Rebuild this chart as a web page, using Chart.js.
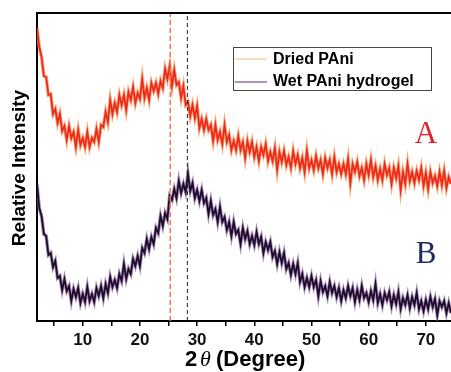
<!DOCTYPE html>
<html>
<head>
<meta charset="utf-8">
<script src="https://cdn.jsdelivr.net/npm/chart.js@4"></script>
<style>
  html, body { margin: 0; background: #fff; }
  #wrap { width: 451px; height: 372px; }
</style>
</head>
<body>
<div id="wrap"><canvas id="xrd"></canvas></div>
<script>
// 2-theta sampling (degrees)
const theta = [
  2,2.4,2.8,3.2,3.6,4,4.4,4.8,5.2,5.6,
  6,6.4,6.8,7.2,7.6,8,8.4,8.8,9.2,9.6,
  10,10.4,10.8,11.2,11.6,12,12.4,12.8,13.2,13.6,
  14,14.4,14.8,15.2,15.6,16,16.4,16.8,17.2,17.6,
  18,18.4,18.8,19.2,19.6,20,20.4,20.8,21.2,21.6,
  22,22.4,22.8,23.2,23.6,24,24.4,24.8,25.2,25.6,
  26,26.4,26.8,27.2,27.6,28,28.4,28.8,29.2,29.6,
  30,30.4,30.8,31.2,31.6,32,32.4,32.8,33.2,33.6,
  34,34.4,34.8,35.2,35.6,36,36.4,36.8,37.2,37.6,
  38,38.4,38.8,39.2,39.6,40,40.4,40.8,41.2,41.6,
  42,42.4,42.8,43.2,43.6,44,44.4,44.8,45.2,45.6,
  46,46.4,46.8,47.2,47.6,48,48.4,48.8,49.2,49.6,
  50,50.4,50.8,51.2,51.6,52,52.4,52.8,53.2,53.6,
  54,54.4,54.8,55.2,55.6,56,56.4,56.8,57.2,57.6,
  58,58.4,58.8,59.2,59.6,60,60.4,60.8,61.2,61.6,
  62,62.4,62.8,63.2,63.6,64,64.4,64.8,65.2,65.6,
  66,66.4,66.8,67.2,67.6,68,68.4,68.8,69.2,69.6,
  70,70.4,70.8,71.2,71.6,72,72.4,72.8,73.2,73.6,
  74,74.4
];

// relative intensity (a.u., offset traces)
const driedPAni = [
  293,274,264,245,244,226,227,207,212,198,
  207,190,195,181,195,183,189,174,191,176,
  183,174,189,174,183,179,192,179,196,194,
  209,199,221,207,218,209,226,216,226,211,
  229,221,234,218,228,222,242,223,233,221,
  238,230,238,227,240,233,252,242,255,235,
  251,236,239,223,235,216,219,205,216,203,
  215,193,202,191,202,191,196,180,196,181,
  189,177,196,179,186,171,180,171,185,171,
  179,163,180,169,179,164,174,160,174,166,
  177,160,169,160,173,151,169,159,170,156,
  164,153,170,157,166,153,163,149,170,153,
  161,151,165,153,161,147,163,153,161,147,
  164,149,157,147,157,147,162,138,157,149,
  159,145,153,141,157,146,161,144,155,141,
  152,141,157,146,153,137,153,143,155,131,
  149,137,157,140,149,138,150,141,153,135,
  148,132,149,138,145,135,149,136,150,133,
  144,137
];

const wetPAni = [
  137,113,105,87,85,66,68,54,60,43,
  45,31,42,30,35,20,32,24,33,18,
  27,19,34,20,27,19,33,25,35,23,
  37,28,44,34,41,33,47,40,57,42,
  52,47,62,55,65,55,73,68,82,72,
  84,77,93,88,105,95,108,102,125,121,
  132,123,140,128,137,129,147,130,138,123,
  131,120,131,118,123,107,120,106,112,99,
  114,99,104,91,99,85,99,87,91,77,
  93,82,90,77,85,76,89,77,84,68,
  79,71,79,64,70,57,69,58,68,52,
  58,46,57,47,58,39,47,34,43,34,
  45,34,41,25,40,29,35,25,39,28,
  35,24,33,20,31,23,35,25,33,19,
  31,21,35,23,28,19,30,21,37,18,
  27,16,28,21,29,15,26,17,29,12,
  23,16,26,13,24,16,28,12,20,10,
  21,12,24,14,22,6,20,14,20,8,
  18,8
];

const peakLines = [25.3, 28.3];
const xTicks = [5, 10, 15, 20, 25, 30, 35, 40, 45, 50, 55, 60, 65, 70];
const seriesNames = ["Dried PAni", "Wet PAni hydrogel"];

const toPts = (ys) => theta.map((t, i) => ({ x: t, y: ys[i] }));
const vLine = (x) => [{ x: x, y: 0 }, { x: x, y: 308 }];

Chart.defaults.font.family = "'Liberation Sans', Arial, sans-serif";

const decor = {
  id: "decor",
  afterDraw(chart) {
    const ctx = chart.ctx;
    const a = chart.chartArea;
    ctx.save();

    // top frame line
    ctx.strokeStyle = "#000";
    ctx.lineWidth = 2;
    ctx.beginPath();
    ctx.moveTo(a.left - 1, a.top);
    ctx.lineTo(a.right, a.top);
    ctx.stroke();

    // legend
    ctx.lineWidth = 1;
    ctx.strokeStyle = "#444";
    ctx.strokeRect(233.5, 47.5, 198, 43);
    ctx.lineWidth = 1.2;
    ctx.strokeStyle = "#f6c49a";
    ctx.beginPath(); ctx.moveTo(235, 59); ctx.lineTo(267, 59); ctx.stroke();
    ctx.strokeStyle = "#6e4f80";
    ctx.beginPath(); ctx.moveTo(235, 82); ctx.lineTo(267, 82); ctx.stroke();
    ctx.fillStyle = "#000";
    ctx.font = "bold 16px 'Liberation Sans', Arial, sans-serif";
    ctx.textBaseline = "middle";
    ctx.textAlign = "left";
    ctx.fillText(seriesNames[0], 273, 59.5);
    ctx.fillText(seriesNames[1], 273, 82);

    // trace labels
    ctx.font = "31px 'Liberation Serif', 'Times New Roman', serif";
    ctx.textBaseline = "alphabetic";
    ctx.textAlign = "center";
    ctx.fillStyle = "#e3232b";
    ctx.fillText("A", 426, 143);
    ctx.fillStyle = "#1c2a5c";
    ctx.fillText("B", 426, 263);

    // y title
    ctx.fillStyle = "#000";
    ctx.save();
    ctx.translate(20, 168);
    ctx.rotate(-Math.PI / 2);
    ctx.font = "bold 19px 'Liberation Sans', Arial, sans-serif";
    ctx.textBaseline = "middle";
    ctx.fillText("Relative Intensity", 0, 0);
    ctx.restore();

    // x title: 2θ (Degree)
    ctx.textAlign = "left";
    ctx.textBaseline = "alphabetic";
    ctx.font = "bold 22px 'Liberation Sans', Arial, sans-serif";
    ctx.fillText("2", 185, 366);
    ctx.font = "italic 22px 'Liberation Serif', serif";
    ctx.fillText("\u03b8", 200, 366);
    ctx.font = "bold 22px 'Liberation Sans', Arial, sans-serif";
    ctx.fillText("(Degree)", 216, 366);

    ctx.restore();
  }
};

// each trace: a soft wide halo under a darker core, same data
const trace = (ys, color, width, order) =>
  ({ data: toPts(ys), borderColor: color, borderWidth: width, pointRadius: 0, tension: 0, order: order });

new Chart(document.getElementById("xrd"), {
  type: "line",
  data: {
    datasets: [
      { label: "p1", data: vLine(peakLines[0]), borderColor: "#f07a50", borderWidth: 1.5, borderDash: [5, 3], pointRadius: 0, order: 0 },
      { label: "p2", data: vLine(peakLines[1]), borderColor: "#222", borderWidth: 1, borderDash: [4, 3], pointRadius: 0, order: 0 },
      Object.assign(trace(driedPAni, "#ee2a1c", 1.8, 1), { label: seriesNames[0] }),
      Object.assign(trace(wetPAni, "#1f0a2c", 1.8, 1), { label: seriesNames[1] }),
      Object.assign(trace(driedPAni, "rgba(246,140,80,0.75)", 3.5, 2), { label: "halo1" }),
      Object.assign(trace(wetPAni, "rgba(130,95,150,0.7)", 3.5, 2), { label: "halo2" })
    ]
  },
  options: {
    responsive: true,
    maintainAspectRatio: false,
    animation: false,
    events: [],
    layout: { padding: { top: 13, right: 0, left: 0, bottom: 0 } },
    plugins: { legend: { display: false }, tooltip: { enabled: false } },
    scales: {
      x: {
        type: "linear",
        min: 2,
        max: 74.4,
        afterBuildTicks: (s) => { s.ticks = xTicks.map(v => ({ value: v })); },
        afterFit: (s) => { s.height = 51; },
        border: { display: true, color: "#000", width: 2 },
        grid: { display: true, drawOnChartArea: false, drawTicks: true, tickLength: 5, color: "#000", lineWidth: 1.5 },
        ticks: {
          autoSkip: false,
          maxRotation: 0,
          padding: 4,
          color: "#111",
          font: { size: 17, weight: "bold" },
          callback: (v) => (v % 10 === 0 ? v : "")
        }
      },
      y: {
        min: 0,
        max: 308,
        afterFit: (s) => { s.width = 37; },
        border: { display: true, color: "#000", width: 2 },
        grid: { display: false },
        ticks: { display: false }
      }
    }
  },
  plugins: [decor]
});
</script>
</body>
</html>
